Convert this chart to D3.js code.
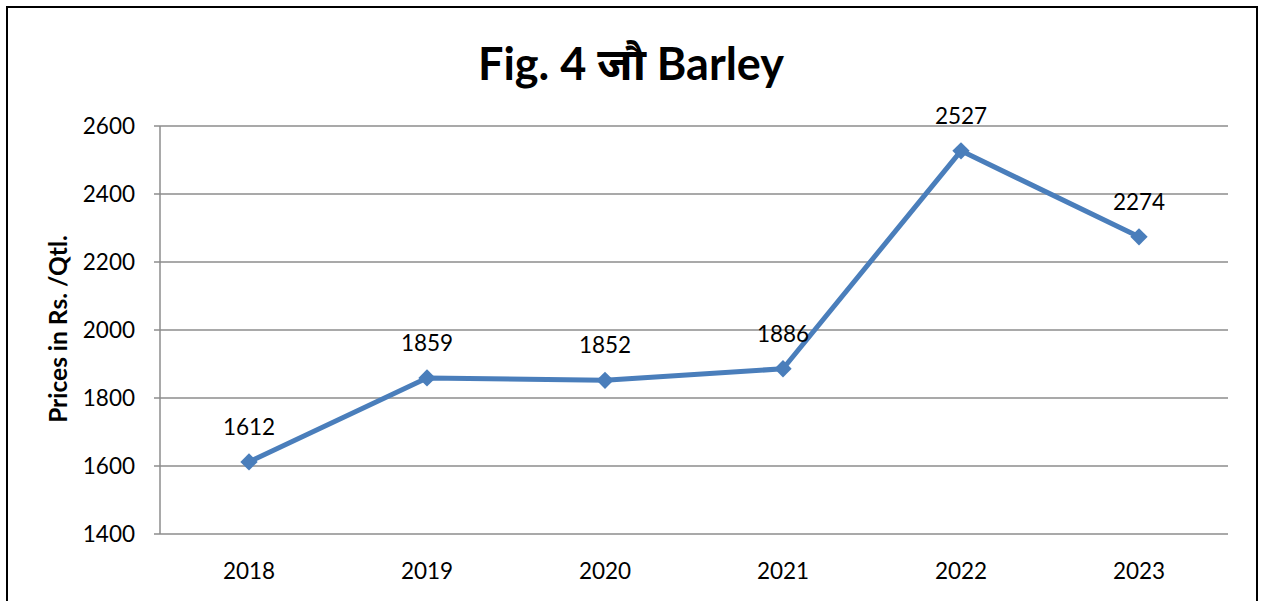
<!DOCTYPE html>
<html>
<head>
<meta charset="utf-8">
<script src="https://cdn.jsdelivr.net/npm/d3@7"></script>
<style>
  body { margin: 0; background: #fff; }
  svg { display: block; font-family: Lato, "Open Sans", "Noto Sans", sans-serif; }
</style>
</head>
<body>
<div id="chart"></div>
<script>
// barley price line chart
let years = ['2018', '2019', '2020', '2021', '2022', '2023']
let prices = [1612, 1859, 1852, 1886, 2527, 2274]
let yTicks = [1400, 1600, 1800, 2000, 2200, 2400, 2600]

let width = 1264, height = 601
let plot = {left: 160, right: 1228, top: 126, bottom: 534}
let lineColor = '#4a7ebb'
let gridColor = '#8c8c8c'

let svg = d3.select('#chart').append('svg')
    .attr('width', width)
    .attr('height', height)

// outer frame
svg.append('rect')
    .attr('x', 7).attr('y', 7)
    .attr('width', 1250).attr('height', 640)
    .attr('fill', 'none')
    .attr('stroke', '#000')
    .attr('stroke-width', 2)

let x = d3.scaleBand().domain(years).range([plot.left, plot.right])
let y = d3.scaleLinear().domain([1400, 2600]).range([plot.bottom, plot.top])

// gridlines
svg.append('g')
    .selectAll('line')
    .data(yTicks)
    .enter()
    .append('line')
    .attr('x1', plot.left - 6)
    .attr('x2', plot.right)
    .attr('y1', d => y(d))
    .attr('y2', d => y(d))
    .attr('stroke', gridColor)
    .attr('stroke-width', 1.5)

// y axis line
svg.append('line')
    .attr('x1', plot.left).attr('x2', plot.left)
    .attr('y1', plot.top).attr('y2', plot.bottom)
    .attr('stroke', gridColor)
    .attr('stroke-width', 1.5)

// y tick labels
svg.append('g')
    .selectAll('text')
    .data(yTicks)
    .enter()
    .append('text')
    .attr('x', plot.left - 25)
    .attr('y', d => y(d) + 8)
    .attr('text-anchor', 'end')
    .style('font-size', '22.5px')
    .text(d => d)

// x labels
svg.append('g')
    .selectAll('text')
    .data(years)
    .enter()
    .append('text')
    .attr('x', d => x(d) + x.bandwidth() / 2)
    .attr('y', 579)
    .attr('text-anchor', 'middle')
    .style('font-size', '22.5px')
    .text(d => d)

// axis title
svg.append('text')
    .attr('transform', 'translate(67,329) rotate(-90)')
    .attr('text-anchor', 'middle')
    .style('font-size', '24.5px')
    .style('font-weight', 'bold')
    .text('Prices in Rs. /Qtl.')

// chart title
svg.append('text')
    .attr('x', 631)
    .attr('y', 80)
    .attr('text-anchor', 'middle')
    .style('font-size', '45px')
    .style('font-weight', 'bold')
    .text('Fig. 4 जौ Barley')

let cx = (d, i) => x(years[i]) + x.bandwidth() / 2

let line = d3.line()
    .x((d, i) => cx(d, i))
    .y(d => y(d))

svg.append('path')
    .datum(prices)
    .attr('d', line)
    .attr('fill', 'none')
    .attr('stroke', lineColor)
    .attr('stroke-width', 5)
    .attr('stroke-linejoin', 'round')

// diamond markers
svg.append('g')
    .selectAll('path')
    .data(prices)
    .enter()
    .append('path')
    .attr('d', d3.symbol().type(d3.symbolSquare).size(150))
    .attr('transform', (d, i) => `translate(${cx(d, i)},${y(d)}) rotate(45)`)
    .attr('fill', lineColor)

// data labels
svg.append('g')
    .selectAll('text')
    .data(prices)
    .enter()
    .append('text')
    .attr('x', (d, i) => cx(d, i))
    .attr('y', d => y(d) - 27)
    .attr('text-anchor', 'middle')
    .style('font-size', '22.5px')
    .text(d => d)
</script>
</body>
</html>
